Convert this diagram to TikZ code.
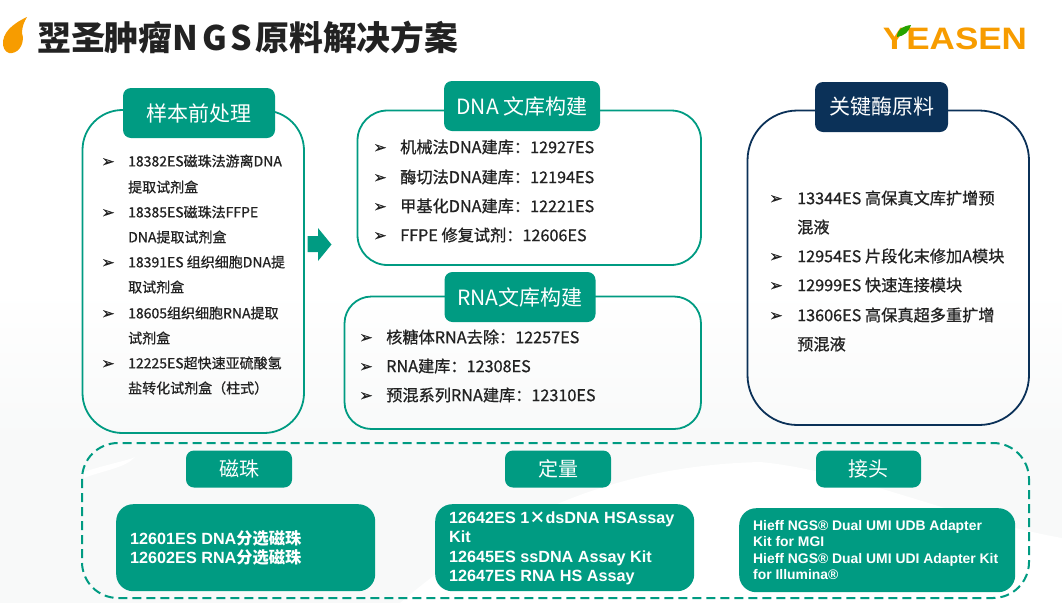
\documentclass[tikz,border=0pt]{standalone}
\usepackage{fontspec}
\setmainfont{Noto Sans CJK SC}
\newfontfamily\bodyfont[FakeBold=0.8]{Noto Sans CJK SC}
\newfontfamily\arialfont{Liberation Sans}
\newfontfamily\arrowfont[FakeBold=0.5]{DejaVu Sans}
\definecolor{yeasengreen}{HTML}{009B82}
\definecolor{yeasennavy}{HTML}{0B3158}
\definecolor{yeasenorange}{HTML}{F79C00}
\definecolor{titleblack}{HTML}{222222}
\definecolor{sweepgray}{HTML}{F8F9F9}
\tikzset{
    panel/.style={draw=#1,line width=1.8pt},
    tab/.style={fill=yeasengreen,text=white,rounded corners=8pt,inner sep=0pt,font=\fontsize{21}{21}\selectfont},
    smalltab/.style={tab,font=\fontsize{20}{20}\selectfont},
    kitbox/.style={fill=yeasengreen,text=white,rounded corners=17pt,inner sep=0pt,anchor=north west},
    kittext/.style={anchor=west,inner sep=0pt,text=white,align=left,font=\arialfont\bfseries\fontsize{16.2}{19.4}\selectfont},
    tick/.style={anchor=center,inner sep=0pt,yshift=-1.5pt,font=\arrowfont\fontsize{16}{16}\selectfont,text=titleblack},
    leftline/.style={anchor=west,inner sep=0pt,text=titleblack,font=\bodyfont\fontsize{14}{14}\selectfont},
    midline/.style={anchor=west,inner sep=0pt,text=titleblack,font=\bodyfont\fontsize{16.2}{16.2}\selectfont},
}
\newcommand{\kitcn}[1]{{\normalfont\bfseries #1}}
\begin{document}
\begin{tikzpicture}[x=1pt,y=-1pt]

            \useasboundingbox (0,0) rectangle (1062,603);

            % faint sweep behind the lower part
            \shade[top color=white,bottom color=sweepgray] (0,290) rectangle (1062,440);
            \fill[sweepgray] (0,440) rectangle (1062,603);
            \fill[white] (84,472) .. controls (100,466) and (130,460) .. (135,457) .. controls (125,468) and (105,470) .. (84,478) -- cycle;
            \fill[white] (400,603) .. controls (520,500) and (640,465) .. (760,462) .. controls (850,470) and (960,520) .. (1062,538) -- (1062,603) -- cycle;

            % flame and title
            \fill[yeasenorange] (27,17) .. controls (12,24) and (2,33) .. (3,45) .. controls (4,51) and (8,54) .. (12,53) .. controls (20,52) and (25,42) .. (22,33) .. controls (22,27) and (24,22) .. (27,17) -- cycle;
            \path (37,37) node (title) [anchor=west,inner sep=0pt,text=titleblack,font=\bfseries\fontsize{33.8}{34}\selectfont] {翌圣肿瘤N\hspace{4pt}G\hspace{4pt}S\hspace{3pt}原料解决方案};

            % logo
            \path (955,38.5) node (logo) [inner sep=0pt,text=yeasenorange,xscale=1.13,font=\arialfont\bfseries\fontsize{31}{31}\selectfont] {YEASEN};
            \fill[green!55!black!80!lime] (897,37) .. controls (897,29) and (903,26) .. (911,25) .. controls (909,32) and (904,36) .. (897,37) -- cycle;

            % panels
            \draw[panel=yeasengreen] (82.5,150) arc[start angle=180,end angle=270,radius=40] -- (264,110.5) arc[start angle=270,end angle=360,radius=40] -- (304,393) arc[start angle=0,end angle=90,radius=40] -- (122.5,433) arc[start angle=90,end angle=180,radius=40] -- cycle;
            \draw[panel=yeasengreen,rounded corners=30pt] (357.5,110.5) rectangle (701,265);
            \draw[panel=yeasengreen,rounded corners=27pt] (344.5,296.5) rectangle (701,429);
            \draw[panel=yeasennavy,rounded corners=50pt] (747.5,110.5) rectangle (1029,425);
            \draw[yeasengreen,line width=2pt,dash pattern=on 9pt off 5pt,rounded corners=36pt] (82,443) rectangle (1029,598);

            % headers
            \path   (199,113) node (sample) [tab,minimum width=152pt,minimum height=50pt] {样本前处理}
                    (522,106) node (dna) [tab,minimum width=156pt,minimum height=50pt] {DNA 文库构建}
                    (520,297) node (rna) [tab,minimum width=151pt,minimum height=50pt] {RNA文库构建}
                    (881.5,107) node (enzyme) [tab,fill=yeasennavy,minimum width=133pt,minimum height=50pt] {关键酶原料}
                    (239,469) node (beads) [smalltab,minimum width=106pt,minimum height=37pt] {磁珠}
                    (558,469) node (quant) [smalltab,minimum width=106pt,minimum height=37pt] {定量}
                    (868.5,469) node (adapter) [smalltab,minimum width=105pt,minimum height=37pt] {接头};

            % block arrow between the columns
            \fill[yeasengreen] (307.5,236) -- (318,236) -- (318,228) -- (331.5,244.5) -- (318,261) -- (318,252) -- (307.5,252) -- cycle;

            % left panel
            \path   (108,161) node (s1b) [tick] {➢}
                    (108,212) node (s2b) [tick] {➢}
                    (108,262) node (s3b) [tick] {➢}
                    (108,313) node (s4b) [tick] {➢}
                    (108,363) node (s5b) [tick] {➢}
                    (128,161) node (s1a) [leftline] {18382ES磁珠法游离DNA}
                    (128,187) node (s1c) [leftline] {提取试剂盒}
                    (128,212) node (s2a) [leftline] {18385ES磁珠法FFPE}
                    (128,237) node (s2c) [leftline] {DNA提取试剂盒}
                    (128,262) node (s3a) [leftline] {18391ES 组织细胞DNA提}
                    (128,287) node (s3c) [leftline] {取试剂盒}
                    (128,313) node (s4a) [leftline] {18605组织细胞RNA提取}
                    (128,338) node (s4c) [leftline] {试剂盒}
                    (128,363) node (s5a) [leftline] {12225ES超快速亚硫酸氢}
                    (128,388) node (s5c) [leftline] {盐转化试剂盒（柱式）};

            % dna panel
            \path   (380,147) node (d1b) [tick] {➢}
                    (380,177) node (d2b) [tick] {➢}
                    (380,206) node (d3b) [tick] {➢}
                    (380,235) node (d4b) [tick] {➢}
                    (400,147) node (d1) [midline] {机械法DNA建库：12927ES}
                    (400,177) node (d2) [midline] {酶切法DNA建库：12194ES}
                    (400,206) node (d3) [midline] {甲基化DNA建库：12221ES}
                    (400,235) node (d4) [midline] {FFPE 修复试剂：12606ES};

            % rna panel
            \path   (366,337) node (r1b) [tick] {➢}
                    (366,366) node (r2b) [tick] {➢}
                    (366,395) node (r3b) [tick] {➢}
                    (386,337) node (r1) [midline] {核糖体RNA去除：12257ES}
                    (386,366) node (r2) [midline] {RNA建库：12308ES}
                    (386,395) node (r3) [midline] {预混系列RNA建库：12310ES};

            % enzyme panel
            \path   (776,198) node (e1b) [tick] {➢}
                    (776,256) node (e2b) [tick] {➢}
                    (776,285) node (e3b) [tick] {➢}
                    (776,315) node (e4b) [tick] {➢}
                    (797,198) node (e1) [midline] {13344ES 高保真文库扩增预}
                    (797,227) node (e1c) [midline] {混液}
                    (797,256) node (e2) [midline] {12954ES 片段化末修加A模块}
                    (797,285) node (e3) [midline] {12999ES 快速连接模块}
                    (797,315) node (e4) [midline] {13606ES 高保真超多重扩增}
                    (797,344) node (e4c) [midline] {预混液};

            % kit boxes
            \path   (116,504) node (beadbox) [kitbox,minimum width=259pt,minimum height=87pt] {}
                    (435,504) node (quantbox) [kitbox,minimum width=259pt,minimum height=87pt] {}
                    (739,508) node (adaptbox) [kitbox,minimum width=276pt,minimum height=84pt] {}
                    (130,548) node (beadtext) [kittext] {12601ES DNA\kitcn{分选磁珠}\\12602ES RNA\kitcn{分选磁珠}}
                    (449,548.5) node (quanttext) [kittext] {12642ES 1\kitcn{×}dsDNA HSAssay\\Kit\\12645ES ssDNA Assay Kit\\12647ES RNA HS Assay}
                    (753,550) node (adapttext) [kittext,font=\arialfont\bfseries\fontsize{13.9}{16.6}\selectfont] {Hieff NGS® Dual UMI UDB Adapter\\Kit for MGI\\Hieff NGS® Dual UMI UDI Adapter Kit\\for Illumina®};

        \end{tikzpicture}
\end{document}
